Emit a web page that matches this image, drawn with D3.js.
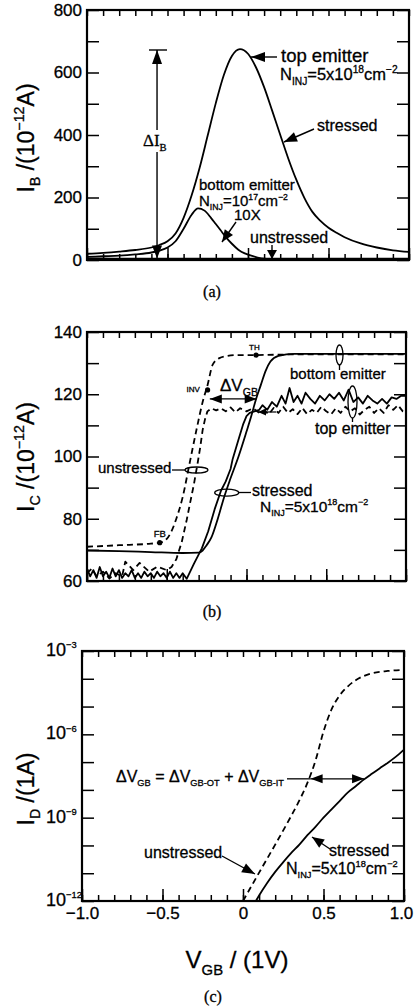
<!DOCTYPE html>
<html><head><meta charset="utf-8">
<script src="https://cdn.jsdelivr.net/npm/d3@7"></script>
<style>body{margin:0;background:#fff}svg{display:block}svg text{stroke:#000;stroke-width:0.3px}</style>
</head><body>
<svg id="c" width="414" height="1007"></svg>
<script>
// ---------- DATA ----------
// Panel (a): I_B (1e-12 A) vs V_GB (V)
const vA_top = [-1.0,-0.9,-0.8,-0.7,-0.6,-0.55,-0.5,-0.45,-0.4,-0.35,-0.3,-0.25,-0.2,-0.15,-0.1,-0.05,0.0,0.05,0.1,0.15,0.2,0.25,0.3,0.35,0.4,0.45,0.5,0.55,0.6,0.7,0.8,0.9,1.0];
const ibTopStressed = [20,23,27,32,40,48,60,85,135,207,296,399,502,592,653,675,660,616,553,478,401,325,257,199,154,125,103,87,73,53,40,31,26];
const vA_bot = [-1.0,-0.9,-0.8,-0.7,-0.6,-0.55,-0.5,-0.45,-0.4,-0.35,-0.31,-0.27,-0.23,-0.2,-0.17,-0.14,-0.1,-0.06,-0.02,0.02,0.06,0.1,0.15,0.2,0.3,0.5,1.0];
const ibBottom = [10,12,14,18,24,30,40,60,100,145,165,158,135,115,95,75,52,33,21,14,8,4,2.5,1.5,1,1,1];
const vA_un = [-1.0,-0.5,0.0,0.5,1.0];
const ibUnstressed = [5,4,4,4,4];

// Panel (b): I_C (1e-12 A) vs V_GB (V)
const vB_botUn = [-1.0,-0.8,-0.6,-0.544,-0.5,-0.47,-0.44,-0.4,-0.356,-0.314,-0.275,-0.244,-0.212,-0.17,-0.12,-0.05,0.06,0.3,1.0];
const icBotUnstressed = [71.0,71.5,72.0,72.3,73.5,76,80,87,98,108.5,117.5,123,129.5,131.6,132.3,132.6,132.6,132.8,132.8];
const vB_topUn = [-1.0,-0.97,-0.94,-0.9,-0.86,-0.82,-0.78,-0.76,-0.71,-0.67,-0.61,-0.56,-0.5,-0.47,-0.44,-0.406,-0.375,-0.35,-0.33,-0.306,-0.29,-0.275,-0.26,-0.245,-0.22,-0.19,-0.16,-0.13,-0.1,-0.07,-0.04,0.0,0.04,0.08,0.11,0.14,0.17,0.2,0.23,0.26,0.29,0.32,0.35,0.38,0.41,0.44,0.47,0.5,0.53,0.56,0.59,0.62,0.65,0.68,0.71,0.74,0.77,0.8,0.83,0.86,0.89,0.92,0.95,0.98,1.0];
const icTopUnstressed = [62.5,64,61.5,63,60.8,62.5,61.5,66.2,63.5,65.8,63,64.6,63.5,64.5,67,72.5,79.6,86,91,98,103,108.5,112,114.5,115.5,114.8,115.5,114.5,115.8,114.2,115.5,114.5,115.5,114,114.8,113.6,115.6,114,116,114,115.2,113.6,115.6,113.6,115,114,116,114.5,113.5,115.5,114,116,114.5,115.5,113.5,115,116,114,115.5,114,116.5,115,116.5,114.5,114];
const vB_botSt = [-1.0,-0.8,-0.6,-0.4,-0.3,-0.275,-0.25,-0.22,-0.18,-0.14,-0.1,-0.05,0.0,0.03,0.06,0.09,0.12,0.15,0.2,0.3,1.0];
const icBotStressed = [69.8,69.6,69.3,69.0,69.1,69.8,71.5,74,80,87,93,100,108,113,118.5,123,127.5,130.5,132.3,133,133];
const vB_topSt = [-1.0,-0.98,-0.96,-0.94,-0.92,-0.9,-0.88,-0.86,-0.84,-0.82,-0.8,-0.78,-0.76,-0.74,-0.72,-0.7,-0.68,-0.66,-0.64,-0.62,-0.6,-0.58,-0.56,-0.54,-0.52,-0.5,-0.48,-0.46,-0.44,-0.42,-0.4,-0.375,-0.33,-0.28,-0.24,-0.2,-0.16,-0.13,-0.1,-0.0875,-0.05,-0.02,0.0,0.02,0.05,0.08,0.1,0.13,0.16,0.19,0.22,0.245,0.27,0.295,0.32,0.345,0.37,0.4,0.43,0.46,0.49,0.52,0.55,0.58,0.61,0.64,0.67,0.7,0.73,0.76,0.79,0.82,0.85,0.88,0.91,0.94,0.97,1.0];
const icTopStressed = [64,61.5,63.5,61,64.5,61.5,63,61,64,61.5,63.5,61,62.5,61.5,63.5,61,62.5,61,63,61.5,62.5,61,63,61.5,62.5,61,63,61,62.5,61,62.5,60.7,65.5,70.5,76,83,89,92,96,99,105.5,110.5,113,114,114.5,115,116.5,115.0,117.5,116.0,119.5,117.0,122.0,117.5,119.5,117.0,120.5,118.5,117.0,119.5,118.0,120.0,118.5,120.5,118.0,121.5,117.5,119.0,117.0,119.5,118.0,117.0,118.5,117.0,119.0,118.5,119.5,119.5];
const markerV = [-0.544,-0.244,0.06];
const markerI = [72.3,121.4,132.6];
const markerLabels = ["FB","INV","TH"];

// Panel (c): I_D (A) vs V_GB (V)
const vC_un = [0.0,0.1,0.2,0.3,0.35,0.4,0.45,0.5,0.55,0.6,0.65,0.7,0.75,0.8,0.9,1.0];
const idUnstressed = [1e-12,1.05e-11,1.07e-10,1.17e-9,4.17e-9,1.78e-8,1.12e-7,1.26e-6,7.94e-6,2.51e-5,5.25e-5,8.91e-5,1.26e-4,1.58e-4,1.91e-4,2.09e-4];
const vC_st = [0.08,0.1,0.15,0.2,0.25,0.3,0.35,0.4,0.45,0.5,0.55,0.6,0.65,0.7,0.75,0.8,0.85,0.9,0.95,1.0];
const idStressed = [1e-12,1.58e-12,4.47e-12,1.12e-11,2.51e-11,5.37e-11,1.07e-10,2.34e-10,4.68e-10,1e-9,2.0e-9,3.98e-9,7.94e-9,1.35e-8,2.34e-8,3.8e-8,6.03e-8,9.55e-8,1.58e-7,2.82e-7];

// Tick values
const xMinorTicks = d3.range(-10,11).map(i=>i/10);
const xMajorTicks = [-1.0,-0.5,0.0,0.5,1.0];
const yTicksA = [0,100,200,300,400,500,600,700,800];
const yLabelsA = [0,200,400,600,800];
const yTicksB = [60,70,80,90,100,110,120,130,140];
const yLabelsB = [60,80,100,120,140];
const yTicksC = [1e-12,1e-11,1e-10,1e-9,1e-8,1e-7,1e-6,1e-5,1e-4,1e-3];
const yLabelExpC = [-12,-9,-6,-3];

// ---------- DRAW ----------
const F = '"Liberation Sans", Arial, Helvetica, sans-serif';
const SERIF = '"Liberation Serif", "Times New Roman", serif';
const svg = d3.select('#c');

function rich(g, x, y, parts, size, opt={}) {
  const t = g.append('text').attr('x', x).attr('y', y).attr('font-size', size)
    .attr('font-family', opt.family || F).attr('text-anchor', opt.anchor || 'start').attr('fill','#000');
  if (opt.transform) t.attr('transform', opt.transform);
  const r = opt.ratio || 0.62;
  let off = 0;
  parts.forEach(p => {
    const [s, k] = typeof p === 'string' ? [p, 'n'] : p;
    const target = k === 'sub' ? size*0.28 : k === 'sup' ? -size*0.42 : 0;
    const fs = k === 'n' ? size : size*r;
    t.append('tspan').attr('dy', target - off).attr('font-size', fs).text(s);
    off = target;
  });
  return t;
}
function head(g, x1, y1, x2, y2, L=11, W=4.5) {
  const a = Math.atan2(y2-y1, x2-x1), c = Math.cos(a), s = Math.sin(a);
  const bx = x2 - L*c, by = y2 - L*s;
  g.append('path').attr('d', `M${x2},${y2}L${bx - W*s},${by + W*c}L${bx + W*s},${by - W*c}Z`).attr('fill', '#000');
}
function arrow(g, x1, y1, x2, y2, o={}) {
  g.append('line').attr('x1', x1).attr('y1', y1).attr('x2', x2).attr('y2', y2)
    .attr('stroke', '#000').attr('stroke-width', o.sw || 1.4);
  if (o.end !== false) head(g, x1, y1, x2, y2, o.L, o.W);
  if (o.start) head(g, x2, y2, x1, y1, o.L, o.W);
}
function frame(g, x, y, o) {
  const [x0, x1] = x.range(), [yb, yt] = y.range();
  g.append('g').attr('transform', `translate(0,${yb})`).call(d3.axisBottom(x).tickValues(xMinorTicks).tickSize(-6).tickFormat(''));
  g.append('g').attr('class','xmaj').attr('transform', `translate(0,${yb})`).call(d3.axisBottom(x).tickValues(xMajorTicks).tickSize(-12).tickPadding(6).tickFormat(o.xFmt || (()=>'')));
  g.append('g').attr('transform', `translate(0,${yt})`).call(d3.axisTop(x).tickValues(xMinorTicks).tickSize(-6).tickFormat(''));
  g.append('g').attr('transform', `translate(${x0},0)`).call(d3.axisLeft(y).tickValues(o.yTicks).tickSize(-12).tickPadding(5).tickFormat(o.yFmt || (()=>'')));
  g.append('g').attr('transform', `translate(${x1},0)`).call(d3.axisRight(y).tickValues(o.yTicks).tickSize(-12).tickFormat(''));
  g.selectAll('.domain').remove();
  g.selectAll('.tick line').attr('stroke', '#000').attr('stroke-width', 1.5);
  g.selectAll('.tick text').attr('font-family', F).attr('font-size', 17).attr('fill', '#000');
  g.append('rect').attr('x', x0).attr('y', yt).attr('width', x1 - x0).attr('height', yb - yt)
    .attr('fill', 'none').attr('stroke', '#000').attr('stroke-width', 2.2);
}
function curve(g, xs, ys, x, y, dashed, smooth=true) {
  const line = d3.line().x(d => x(d[0])).y(d => y(d[1])).curve(smooth ? d3.curveMonotoneX : d3.curveLinear);
  g.append('path').datum(d3.zip(xs, ys)).attr('d', line).attr('fill', 'none').attr('stroke', '#000')
    .attr('stroke-width', 1.8).attr('stroke-dasharray', dashed ? '6,4' : null).attr('stroke-linejoin','round');
}

// ===== Panel (a) =====
{
  const g = svg.append('g');
  const x = d3.scaleLinear([-1, 1], [87, 409]);
  const y = d3.scaleLinear([0, 800], [260, 10]);
  curve(g, vA_un, ibUnstressed, x, y, false);
  curve(g, vA_bot, ibBottom, x, y, false);
  curve(g, vA_top, ibTopStressed, x, y, false);
  frame(g, x, y, { yTicks: yTicksA, yFmt: d => yLabelsA.includes(d) ? d : '' });
  // Delta I_B arrow
  const xa = x(-0.565);
  g.append('line').attr('x1', x(-0.615)).attr('x2', x(-0.503)).attr('y1', y(672)).attr('y2', y(672)).attr('stroke','#000').attr('stroke-width',1.4);
  g.append('line').attr('x1', xa).attr('x2', xa).attr('y1', y(672)).attr('y2', 130).attr('stroke','#000').attr('stroke-width',1.4);
  g.append('line').attr('x1', xa).attr('x2', xa).attr('y1', 152).attr('y2', y(5)).attr('stroke','#000').attr('stroke-width',1.4);
  head(g, xa, 120, xa, y(672), 14, 5);
  head(g, xa, 200, xa, y(5), 13, 5);
  rich(g, 143, 146, ['ΔI', ['B','sub']], 17, { family: SERIF });
  // labels
  rich(g, 281, 62, ['top emitter'], 18.5);
  rich(g, 280, 80, ['N', ['INJ','sub'], '=5x10', ['18','sup'], 'cm', ['−2','sup']], 16.5);
  arrow(g, 277, 57, 251, 57, { L: 14, W: 5 });
  rich(g, 317, 131, ['stressed'], 16);
  arrow(g, 314, 129, 284, 142, { L: 13, W: 5 });
  rich(g, 199, 190, ['bottom emitter'], 15);
  rich(g, 199, 206, ['N', ['INJ','sub'], '=10', ['17','sup'], 'cm', ['−2','sup']], 15, { ratio: 0.58 });
  rich(g, 234, 220, ['10X'], 15);
  arrow(g, 236, 222, 222, 242, { L: 12, W: 5 });
  rich(g, 250, 243, ['unstressed'], 16);
  arrow(g, 272, 245, 272, 259, { L: 9, W: 5 });
  g.append('text').attr('x', 212).attr('y', 297).attr('text-anchor','middle').attr('font-family', SERIF).attr('font-size', 16).attr('stroke-width',0).text('(a)');
  rich(g, 0, 0, ['I', ['B','sub'], ' /(10', ['−12','sup'], 'A)'], 23, { anchor: 'middle', transform: 'translate(34,138) rotate(-90)' });
}

// ===== Panel (b) =====
{
  const g = svg.append('g');
  const x = d3.scaleLinear([-1, 1], [87, 406]);
  const y = d3.scaleLinear([60, 140], [581, 332]);
  curve(g, vB_botUn, icBotUnstressed, x, y, true);
  curve(g, vB_topUn, icTopUnstressed, x, y, true, false);
  curve(g, vB_botSt, icBotStressed, x, y, false);
  curve(g, vB_topSt, icTopStressed, x, y, false, false);
  frame(g, x, y, { yTicks: yTicksB, yFmt: d => yLabelsB.includes(d) ? d : '' });
  // markers
  const lblOff = [[-6, -6], [-21, 2], [-7, -5]];
  markerV.forEach((v, i) => {
    g.append('circle').attr('cx', x(v)).attr('cy', y(markerI[i])).attr('r', 2.6).attr('fill', '#000');
    g.append('text').attr('x', x(v) + lblOff[i][0]).attr('y', y(markerI[i]) + lblOff[i][1])
      .attr('font-family', F).attr('font-size', markerLabels[i] === 'FB' ? 9.5 : 8).attr('stroke-width', 0.15).attr('text-anchor', 'start').text(markerLabels[i]);
  });
  // Delta V_GB
  rich(g, 220, 391, ['ΔV', ['GB','sub']], 17);
  arrow(g, x(-0.23), y(118.5), x(0.064), y(118.5), { start: true, L: 12, W: 4.5 });
  // bottom emitter
  rich(g, 290, 379, ['bottom emitter'], 15);
  g.append('ellipse').attr('cx', 339.5).attr('cy', 355).attr('rx', 3.5).attr('ry', 10).attr('fill','none').attr('stroke','#000').attr('stroke-width',1.3);
  g.append('line').attr('x1', 339.5).attr('x2', 339.5).attr('y1', 365).attr('y2', 370).attr('stroke','#000').attr('stroke-width',1.3);
  // top emitter
  rich(g, 315, 434, ['top emitter'], 16);
  g.append('ellipse').attr('cx', 352.5).attr('cy', 402).attr('rx', 4.5).attr('ry', 16).attr('fill','none').attr('stroke','#000').attr('stroke-width',1.3);
  g.append('line').attr('x1', 352.5).attr('x2', 352.5).attr('y1', 418).attr('y2', 422).attr('stroke','#000').attr('stroke-width',1.3);
  arrow(g, 276, 412, 258, 412, { L: 8, W: 3.5, sw: 1.2 });
  // unstressed
  rich(g, 98, 473, ['unstressed'], 15);
  g.append('line').attr('x1', 172).attr('x2', 185).attr('y1', 470).attr('y2', 470).attr('stroke','#000').attr('stroke-width',1.3);
  g.append('ellipse').attr('cx', 196.5).attr('cy', 470).attr('rx', 11.5).attr('ry', 3).attr('fill','none').attr('stroke','#000').attr('stroke-width',1.3);
  // stressed
  rich(g, 252, 496, ['stressed'], 16);
  g.append('line').attr('x1', 238.5).attr('x2', 251).attr('y1', 492.5).attr('y2', 492.5).attr('stroke','#000').attr('stroke-width',1.3);
  g.append('ellipse').attr('cx', 226.7).attr('cy', 492.7).attr('rx', 12).attr('ry', 3.5).attr('fill','none').attr('stroke','#000').attr('stroke-width',1.3);
  rich(g, 260, 512, ['N', ['INJ','sub'], '=5x10', ['18','sup'], 'cm', ['−2','sup']], 15.5, { ratio: 0.58 });
  g.append('text').attr('x', 212).attr('y', 617).attr('text-anchor','middle').attr('font-family', SERIF).attr('font-size', 16).attr('stroke-width',0).text('(b)');
  rich(g, 0, 0, ['I', ['C','sub'], ' /(10', ['−12','sup'], 'A)'], 23, { anchor: 'middle', transform: 'translate(34,457) rotate(-90)' });
}

// ===== Panel (c) =====
{
  const g = svg.append('g');
  const x = d3.scaleLinear([-1, 1], [82, 404]);
  const y = d3.scaleLog([1e-12, 1e-3], [901, 651]);
  curve(g, vC_un, idUnstressed, x, y, true);
  curve(g, vC_st, idStressed, x, y, false);
  frame(g, x, y, { yTicks: yTicksC, xFmt: d => d === 0 ? '0' : (d < 0 ? '−' : '') + Math.abs(d).toFixed(1) });
  g.selectAll('.xmaj .tick text').attr('font-size', 17).filter(d => d === 1).attr('dx', -3);
  yLabelExpC.forEach(e => {
    rich(g, 46, y(Math.pow(10, e)) + 5, ['10', ['−' + Math.abs(e), 'sup']], 18, { ratio: 0.52 });
  });
  const t = rich(g, 116, 782, ['ΔV', ['GB','sub'], ' = ΔV', ['GB-OT','sub'], ' + ΔV', ['GB-IT','sub']], 16, { ratio: 0.58 });
  const tEnd = 116 + t.node().getComputedTextLength();
  const yA = y(2.5e-8);
  g.append('line').attr('x1', tEnd + 3).attr('x2', x(0.42)).attr('y1', yA).attr('y2', yA).attr('stroke','#000').attr('stroke-width',1.3);
  arrow(g, x(0.42), yA, x(0.752), yA, { start: true, L: 12, W: 4.5 });
  rich(g, 144, 858, ['unstressed'], 16);
  arrow(g, 222, 856, 255, 874, { L: 13, W: 5 });
  rich(g, 329, 856, ['stressed'], 16);
  arrow(g, 330, 849, 312, 837, { L: 12, W: 5 });
  rich(g, 286, 874, ['N', ['INJ','sub'], '=5x10', ['18','sup'], 'cm', ['−2','sup']], 16, { ratio: 0.58 });
  g.append('text').attr('x', 213).attr('y', 1002).attr('text-anchor','middle').attr('font-family', SERIF).attr('font-size', 16).attr('stroke-width',0).text('(c)');
  rich(g, 0, 0, ['I', ['D','sub'], ' /(1A)'], 23, { anchor: 'middle', transform: 'translate(34,789) rotate(-90)' });
  rich(g, 237, 968, ['V', ['GB','sub'], ' / (1V)'], 24, { anchor: 'middle' });
}
</script>
</body></html>
